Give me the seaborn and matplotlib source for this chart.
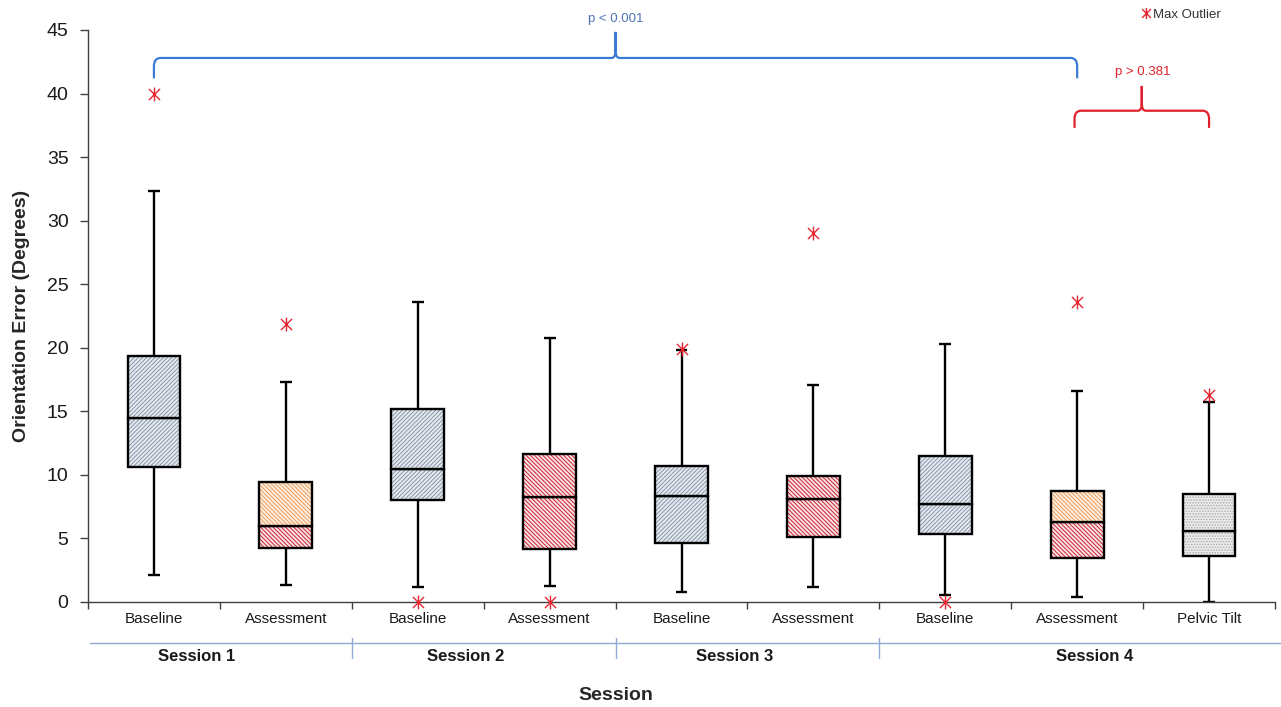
import numpy as np
import pandas as pd
import seaborn as sns
import matplotlib.pyplot as plt
import matplotlib.transforms as mtransforms
from matplotlib.path import Path
from matplotlib.patches import PathPatch
from matplotlib.lines import Line2D

# Box statistics
sessions = ['Session 1', 'Session 1', 'Session 2', 'Session 2', 'Session 3',
            'Session 3', 'Session 4', 'Session 4', 'Session 4']
conditions = ['Baseline', 'Assessment', 'Baseline', 'Assessment', 'Baseline',
              'Assessment', 'Baseline', 'Assessment', 'Pelvic Tilt']
whisker_low = [2.1, 1.3, 1.15, 1.25, 0.75, 1.2, 0.55, 0.4, 0.0]
q1 = [10.65, 4.22, 8.03, 4.14, 4.62, 5.14, 5.35, 3.49, 3.62]
median = [14.5, 6.0, 10.49, 8.23, 8.34, 8.08, 7.68, 6.27, 5.61]
q3 = [19.35, 9.47, 15.16, 11.64, 10.7, 9.91, 11.49, 8.76, 8.47]
whisker_high = [32.3, 17.33, 23.6, 20.8, 19.83, 17.05, 20.3, 16.63, 15.76]
max_outlier = [40.0, 21.9, 0.0, 0.0, 19.9, 29.0, 0.0, 23.6, 16.3]

df = pd.DataFrame({
    'session': sessions,
    'condition': conditions,
    'wlow': whisker_low,
    'q1': q1,
    'median': median,
    'q3': q3,
    'whigh': whisker_high,
    'outlier': max_outlier,
})
df['key'] = df['session'] + ' ' + df['condition']
df['lower_h'] = df['median'] - df['q1']
df['upper_h'] = df['q3'] - df['median']

# fill styles: (face, hatch colour, hatch)
estilos = {
    'base': ('#e6eaef', '#8796aa', '/' * 8),
    'red': ('#f8e2e4', '#cc2233', '\\' * 8),
    'orange': ('#fdefe2', '#ee9a55', '\\' * 8),
    'tilt': ('#ebebeb', '#a9a9a9', '.' * 6),
}
lower_fill = ['base', 'red', 'base', 'red', 'base', 'red', 'base', 'red', 'tilt']
upper_fill = ['base', 'orange', 'base', 'red', 'base', 'red', 'base', 'orange', 'tilt']

# Excel-like asterisk: an X with a vertical stroke
asterisco = Path([(0, -1), (0, 1), (-0.8, -0.8), (0.8, 0.8), (-0.8, 0.8), (0.8, -0.8)],
                 [Path.MOVETO, Path.LINETO, Path.MOVETO, Path.LINETO, Path.MOVETO, Path.LINETO])
vermelho = '#e8262f'

sns.set_style('ticks')
plt.rcParams['font.family'] = ['Liberation Sans', 'DejaVu Sans']
plt.rcParams['hatch.linewidth'] = 0.7

fig = plt.figure(figsize=(12.81, 7.07), dpi=100)
ax = fig.add_axes([88 / 1281, 1 - 602 / 707, 1187 / 1281, 572 / 707])

largura = 0.4
for col, base, fills in [('lower_h', 'q1', lower_fill), ('upper_h', 'median', upper_fill)]:
    sns.barplot(data=df, x='key', y=col, bottom=df[base].to_numpy(), width=largura,
                errorbar=None, color='white', saturation=1, linewidth=0, ax=ax)
    for patch, st in zip(ax.containers[-1], fills):
        face, hc, hatch = estilos[st]
        patch.set_facecolor(face)
        patch.set_edgecolor(hc)
        patch.set_hatch(hatch)
    sns.barplot(data=df, x='key', y=col, bottom=df[base].to_numpy(), width=largura,
                errorbar=None, fill=False, color='black', edgecolor='black',
                linewidth=1.7, ax=ax)

# whiskers
pos = np.arange(len(df))
cap = 0.045
ax.vlines(pos, df['q3'], df['whigh'], color='black', lw=1.7, zorder=2)
ax.vlines(pos, df['wlow'], df['q1'], color='black', lw=1.7, zorder=2)
ax.hlines(df['whigh'], pos - cap, pos + cap, color='black', lw=1.7, zorder=2)
ax.hlines(df['wlow'], pos - cap, pos + cap, color='black', lw=1.7, zorder=2)

# max outliers
sns.stripplot(data=df, x='key', y='outlier', jitter=False, marker=asterisco,
              color=vermelho, edgecolor=vermelho, size=10, linewidth=1.0, ax=ax,
              clip_on=False, zorder=6)

ax.set_ylim(0, 45)
ax.set_yticks(range(0, 46, 5))
ax.set_xlim(-0.5, len(df) - 0.5)
ax.set_xticks(pos)
ax.set_xticklabels(conditions)
ax.set_xticks(np.arange(-0.5, len(df), 1), minor=True)
ax.tick_params(axis='x', which='major', length=0, pad=7, labelsize=11, labelcolor='#1a1a1a')
ax.tick_params(axis='x', which='minor', length=5, width=1, color='#404040')
ax.tick_params(axis='y', length=6, width=1, pad=8, labelsize=14, color='#404040', labelcolor='#1a1a1a')
sns.despine(ax=ax)
for s in ['left', 'bottom']:
    ax.spines[s].set_color('#404040')
    ax.spines[s].set_linewidth(1)

ax.set_ylabel('Orientation Error (Degrees)', fontsize=14, fontweight='bold')
ax.yaxis.set_label_coords(-0.049, 0.5)
ax.set_xlabel('Session', fontsize=14, fontweight='bold')
ax.xaxis.set_label_coords(0.445, -0.148)

# session grouping below the axis
trans = mtransforms.blended_transform_factory(ax.transData, ax.transAxes)
ax.plot([-0.485, 8.55], [-0.0717, -0.0717], transform=trans, clip_on=False,
        color='#8eaad0', lw=1)
for xs in [1.5, 3.5, 5.5]:
    ax.plot([xs, xs], [-0.063, -0.098], transform=trans, clip_on=False,
            color='#8eaad0', lw=1)
session_x = [0.326, 2.366, 4.405, 7.135]
for xs, nome in zip(session_x, ['Session 1', 'Session 2', 'Session 3', 'Session 4']):
    ax.text(xs, -0.096, nome, transform=trans, ha='center', va='center',
            fontsize=12, fontweight='bold', color='#1a1a1a')


def chave(x0, x1, y_end, y_bar, y_tip, cor):
    xm = (x0 + x1) / 2
    rx, ry = 0.05, 0.65
    rx2, ry2 = 0.03, 0.6
    verts = [(x0, y_end), (x0, y_bar - ry), (x0, y_bar), (x0 + rx, y_bar),
             (xm - rx2, y_bar), (xm, y_bar), (xm, y_bar + ry2), (xm, y_tip),
             (xm, y_tip), (xm, y_bar + ry2), (xm, y_bar), (xm + rx2, y_bar),
             (x1 - rx, y_bar), (x1, y_bar), (x1, y_bar - ry), (x1, y_end)]
    codes = [Path.MOVETO, Path.LINETO, Path.CURVE3, Path.CURVE3,
             Path.LINETO, Path.CURVE3, Path.CURVE3, Path.LINETO,
             Path.MOVETO, Path.LINETO, Path.CURVE3, Path.CURVE3,
             Path.LINETO, Path.CURVE3, Path.CURVE3, Path.LINETO]
    ax.add_patch(PathPatch(Path(verts, codes), fill=False, edgecolor=cor,
                           lw=1.6, clip_on=False))


chave(0.0, 7.0, 41.2, 42.8, 44.85, '#3a7bd5')
ax.text(3.5, 45.9, 'p < 0.001', ha='center', va='center', fontsize=9.5,
        color='#4f74b3', clip_on=False)
chave(6.98, 8.0, 37.3, 38.65, 40.6, '#e0202a')
ax.text(7.5, 41.7, 'p > 0.381', ha='center', va='center', fontsize=9.5,
        color='#e0202a', clip_on=False)

handle = Line2D([], [], marker=asterisco, color=vermelho, markeredgecolor=vermelho,
                ls='', markersize=8, mew=1.0)
fig.legend([handle], ['Max Outlier'], loc='center left',
           bbox_to_anchor=(1141 / 1281, 1 - 15 / 707), frameon=False,
           handlelength=0.8, handletextpad=0.1, borderpad=0, borderaxespad=0,
           fontsize=9.5, labelcolor='#333333')

fig.savefig('out.png', dpi=100)
